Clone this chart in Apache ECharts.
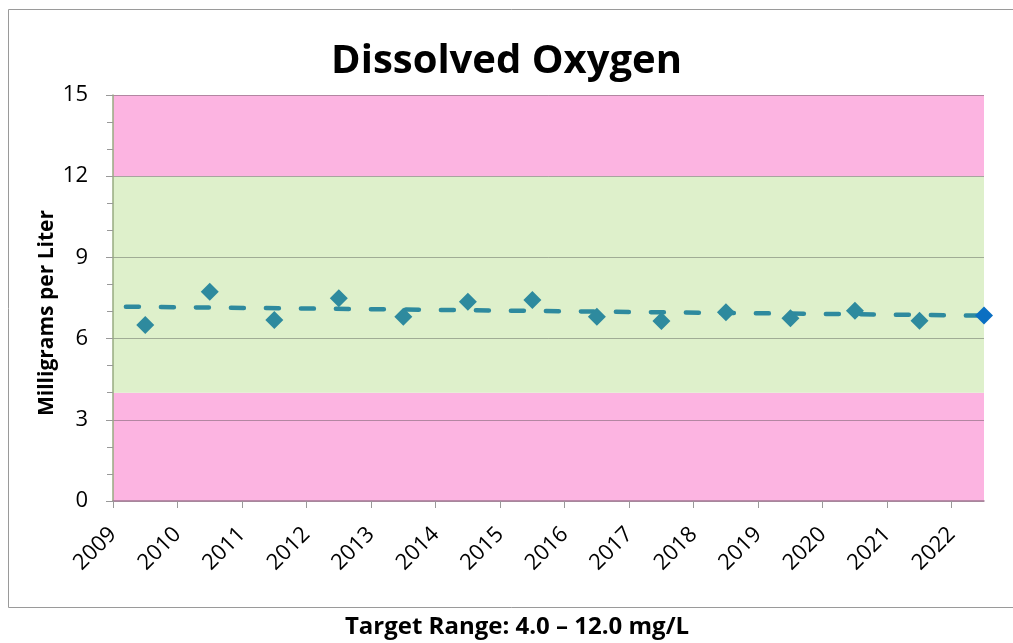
<!DOCTYPE html>
<html>
<head>
<meta charset="utf-8">
<script src="https://cdn.jsdelivr.net/npm/echarts@6/dist/echarts.min.js"></script>
<style>html,body{margin:0;padding:0;background:#fff}#c{width:1013px;height:643px}</style>
</head>
<body>
<div id="c"></div>
<script>
// ---- data ----
const years = [2009.5, 2010.5, 2011.5, 2012.5, 2013.5, 2014.5, 2015.5, 2016.5, 2017.5, 2018.5, 2019.5, 2020.5, 2021.5];
const doValues = [6.50, 7.73, 6.69, 7.49, 6.81, 7.36, 7.43, 6.81, 6.65, 6.97, 6.75, 7.03, 6.66];
const latestYear = [2022.5];
const latestValue = [6.85];
const trendYears = [2009.2, 2022.5];
const trendValues = [7.18, 6.85];
const bandLimits = [[0, 4], [4, 12], [12, 15]];
const yTicks = [0, 3, 6, 9, 12, 15];
const xTickLabels = ['2009','2010','2011','2012','2013','2014','2015','2016','2017','2018','2019','2020','2021','2022'];
const titleText = 'Dissolved Oxygen';
const yName = 'Milligrams per Liter';
const footText = 'Target Range: 4.0 \u2013 12.0 mg/L';

const bandColors = ['#FCB4E1', '#DEF0CB', '#FCB4E1'];
const teal = '#2E8A9E';
const font = '"Open Sans", "Noto Sans", sans-serif';

const chart = echarts.init(document.getElementById('c'));
chart.setOption({
  animation: false,
  backgroundColor: '#fff',
  grid: { left: 113, right: 29, top: 95, bottom: 142 },
  title: {
    text: titleText, left: 'center', top: 37,
    textStyle: { fontFamily: font, fontWeight: 'bold', fontSize: 40, color: '#000' }
  },
  graphic: [
    { type: 'rect', shape: { x: 8.5, y: 9.5, width: 1010, height: 598 }, style: { fill: 'none', stroke: '#9a9a9a', lineWidth: 1 }, z: -1 },
    { type: 'text', x: 47, y: 313, rotation: Math.PI / 2, style: { text: yName, fontFamily: font, fontWeight: 'bold', fontSize: 21, fill: '#000', align: 'center', verticalAlign: 'middle' } },
    { type: 'text', x: 517, y: 627, style: { text: footText, fontFamily: font, fontWeight: 'bold', fontSize: 24, fill: '#000', align: 'center', verticalAlign: 'middle' } }
  ],
  xAxis: {
    type: 'value', min: 2009, max: 2022.5, interval: 1, z: 3,
    splitLine: { show: false },
    axisLine: { show: true, lineStyle: { color: '#a27894', width: 1.5 } },
    axisTick: { show: true, length: 7, lineStyle: { color: '#999' } },
    axisLabel: {
      rotate: 45, margin: 30, showMaxLabel: false,
      fontFamily: font, fontSize: 22, color: '#000',
      formatter: v => { const i = Math.round(v - 2009); return (Math.abs(v - Math.round(v)) < 1e-6 && xTickLabels[i]) ? xTickLabels[i] : ''; }
    }
  },
  yAxis: {
    type: 'value', min: yTicks[0], max: yTicks[yTicks.length - 1], interval: 3, z: 3,
    axisLine: { show: true, lineStyle: { color: '#97ab80', width: 1.5 } },
    axisTick: { show: true, length: 7, lineStyle: { color: '#999' } },
    minorTick: { show: true, splitNumber: 3, length: 6, lineStyle: { color: '#999' } },
    splitLine: { show: true, lineStyle: { color: 'rgba(60,60,60,0.38)', width: 1 } },
    axisLabel: { margin: 25, fontFamily: font, fontSize: 22, color: '#000' }
  },
  series: [
    {
      type: 'line', data: [], z: 1, silent: true,
      markArea: {
        silent: true,
        data: bandLimits.map((b, i) => [
          { yAxis: b[0], itemStyle: { color: bandColors[i] } },
          { yAxis: b[1] }
        ])
      }
    },
    {
      type: 'line', z: 5, symbol: 'none',
      data: trendYears.map((x, i) => [x, trendValues[i]]),
      lineStyle: { color: teal, width: 4.5, type: [13, 22], cap: 'round' }
    },
    {
      type: 'scatter', z: 6, symbol: 'diamond', symbolSize: 18,
      itemStyle: { color: teal, opacity: 1 },
      data: years.map((x, i) => [x, doValues[i]])
    },
    {
      type: 'scatter', z: 7, symbol: 'diamond', symbolSize: 18,
      itemStyle: { color: '#0A6FC2', opacity: 1 },
      data: latestYear.map((x, i) => [x, latestValue[i]])
    }
  ]
});
</script>
</body>
</html>
